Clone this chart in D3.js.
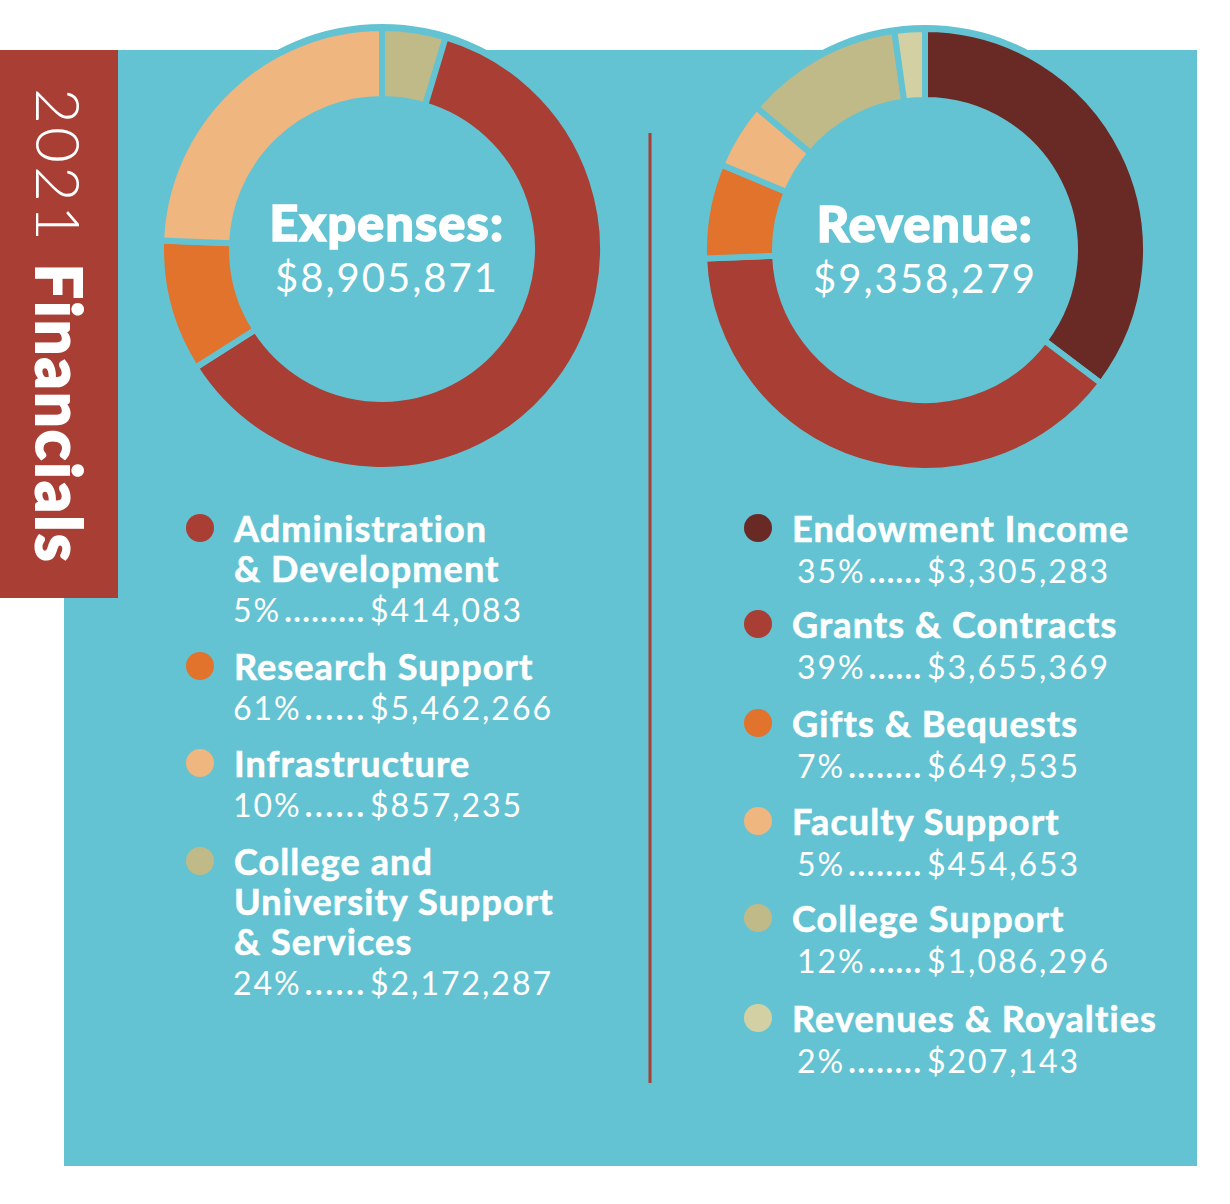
<!DOCTYPE html>
<html>
<head>
<meta charset="utf-8">
<script src="https://cdn.jsdelivr.net/npm/d3@7"></script>
<style>
  html, body { margin: 0; padding: 0; background: #ffffff; }
  svg { display: block; }
  text { font-family: Lato, "Open Sans", sans-serif; fill: #ffffff; }
</style>
</head>
<body>
<svg id="chart" width="1230" height="1204"></svg>
<script>
// ---------- DATA ----------
const expenseCategories = [
  ["Administration", "& Development"],
  ["Research Support"],
  ["Infrastructure"],
  ["College and", "University Support", "& Services"]
];
const expenseValues = [414083, 5462266, 857235, 2172287];

const revenueCategories = [
  ["Endowment Income"],
  ["Grants & Contracts"],
  ["Gifts & Bequests"],
  ["Faculty Support"],
  ["College Support"],
  ["Revenues & Royalties"]
];
const revenueValues = [3305283, 3655369, 649535, 454653, 1086296, 207143];

const titleYear = "2021";
const titleWord = "Financials";
const expenseLabel = "Expenses:";
const revenueLabel = "Revenue:";

// ---------- STYLE ----------
const teal = "#63C3D2";
const red = "#A83E34";
const dark = "#692A25";
const orange = "#E1732C";
const lightOrange = "#EFB67F";
const khaki = "#C0BA89";
const lightKhaki = "#D3D0A3";

const expenseLegendColors = [red, orange, lightOrange, khaki];
const expenseArcColors = [khaki, red, orange, lightOrange];
const revenueColors = [dark, red, orange, lightOrange, khaki, lightKhaki];

const svg = d3.select("#chart");

// background panel
svg.append("rect").attr("x", 64).attr("y", 50).attr("width", 1133).attr("height", 1116).attr("fill", teal);

// banner
svg.append("rect").attr("x", 0).attr("y", 50).attr("width", 118).attr("height", 548).attr("fill", red);
const bannerText = svg.append("text")
  .attr("transform", "translate(36,88) rotate(90)")
  .style("font-size", "62px");
bannerText.append("tspan").style("font-weight", 300).style("letter-spacing", "3px").text(titleYear + " ");
bannerText.append("tspan").style("font-weight", 900).style("letter-spacing", "2.6px")
  .style("stroke", "#ffffff").style("stroke-width", "2px").style("paint-order", "stroke")
  .text(titleWord);

// divider
svg.append("line").attr("x1", 650).attr("x2", 650).attr("y1", 133).attr("y2", 1083)
  .attr("stroke", red).attr("stroke-width", 3);

const fmt = d3.format("$,");

function donut(cx, cy, values, colors, label, textCx) {
  const g = svg.append("g").attr("transform", `translate(${cx},${cy})`);
  g.append("circle").attr("r", 225).attr("fill", teal);
  const pie = d3.pie().sort(null).value(d => d);
  const arc = d3.arc().innerRadius(150).outerRadius(221);
  g.selectAll("path.slice").data(pie(values)).join("path")
    .attr("class", "slice")
    .attr("d", arc)
    .attr("fill", (d, i) => colors[i])
    .attr("stroke", teal)
    .attr("stroke-width", 6)
    .attr("stroke-linejoin", "miter");
  const total = d3.sum(values);
  svg.append("text").attr("x", textCx).attr("y", cy - 8).attr("text-anchor", "middle")
    .style("font-size", "50px").style("font-weight", 900).style("letter-spacing", "1.3px")
    .style("stroke", "#ffffff").style("stroke-width", "1.6px").style("paint-order", "stroke")
    .text(label);
  svg.append("text").attr("x", textCx).attr("y", cy + 43).attr("text-anchor", "middle")
    .style("font-size", "40px").style("font-weight", 400).style("letter-spacing", "2px")
    .text(fmt(total));
}

donut(382, 249, expenseValues, expenseArcColors, expenseLabel, 387);
donut(925, 250, revenueValues, revenueColors, revenueLabel, 925);

function legend(opts) {
  const { cats, values, colors, starts, dotX, textX, valX, pctX, lineH, valGap } = opts;
  const total = d3.sum(values);
  cats.forEach((lines, i) => {
    const y0 = starts[i];
    svg.append("circle").attr("cx", dotX).attr("cy", y0 - 14).attr("r", 14).attr("fill", colors[i]);
    lines.forEach((ln, j) => {
      svg.append("text").attr("x", textX).attr("y", y0 + j * lineH)
        .style("font-size", "36px").style("font-weight", 700).style("letter-spacing", "1.1px")
        .style("stroke", "#ffffff").style("stroke-width", "0.6px").style("paint-order", "stroke")
        .text(ln);
    });
    const vy = y0 + (lines.length - 1) * lineH + valGap;
    const pct = Math.round(values[i] / total * 100) + "%";
    const pt = svg.append("text").attr("x", pctX).attr("y", vy)
      .style("font-size", "32px").style("font-weight", 400).style("letter-spacing", "2px")
      .text(pct);
    const pw = pt.node().getComputedTextLength();
    const ds = pctX + pw + 3, de = valX - 6;
    const n = Math.max(1, Math.floor((de - ds) / 8.6));
    svg.append("text").attr("x", ds).attr("y", vy)
      .style("font-size", "32px").style("font-weight", 700)
      .attr("textLength", Math.max(5, de - ds)).attr("lengthAdjust", "spacing")
      .text(".".repeat(n));
    svg.append("text").attr("x", valX).attr("y", vy)
      .style("font-size", "32px").style("font-weight", 400).style("letter-spacing", "2px")
      .text(fmt(values[i]));
  });
}

legend({
  cats: expenseCategories, values: expenseValues,
  colors: expenseLegendColors, starts: [542, 680, 777, 875],
  dotX: 200, textX: 234, pctX: 233, valX: 370, lineH: 40, valGap: 40
});
legend({
  cats: revenueCategories, values: revenueValues,
  colors: revenueColors, starts: [542, 638, 737, 835, 932, 1032],
  dotX: 758, textX: 792, pctX: 797, valX: 927, lineH: 40, valGap: 41
});
</script>
</body>
</html>
